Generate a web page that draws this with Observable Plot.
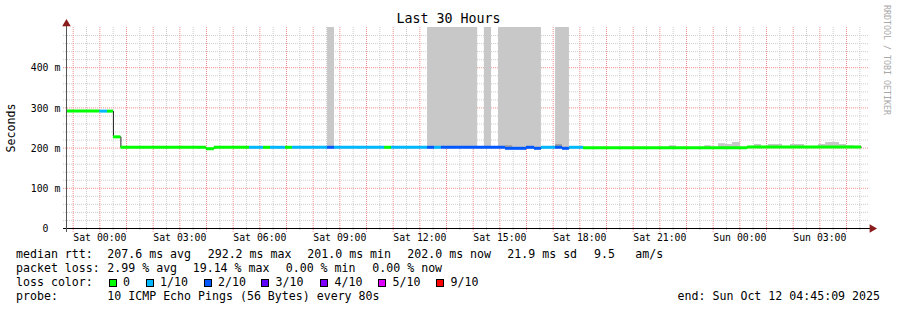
<!DOCTYPE html>
<html><head><meta charset="utf-8">
<script src="https://cdn.jsdelivr.net/npm/d3@7"></script>
<script src="https://cdn.jsdelivr.net/npm/@observablehq/plot@0.6"></script>
<style>
html,body{margin:0;padding:0;background:#fff;}
#wrap{position:relative;width:897px;height:310px;overflow:hidden;font-family:"DejaVu Sans Mono",monospace;color:#000;background:#fff;}
#wrap svg{position:absolute;left:0;top:0;}
.t{position:absolute;white-space:pre;line-height:14px;font-size:11.6px;}
.sw{position:absolute;width:8px;height:8px;box-sizing:border-box;border:1px solid #000;}
</style></head><body><div id="wrap"></div>
<script>
// ---- data (hours relative to Sat 00:00; values in ms) ----
const lossLevels = ["0", "1/10", "2/10", "3/10", "4/10", "5/10", "9/10"];
const lossColors = ["#00ff00", "#00b8ff", "#0059ff", "#5e00ff", "#7e00ff", "#dd00ff", "#ff0000"];

const segStart  = [-1.25, 0.00, 0.29, 0.51, 0.79, 3.99, 4.29, 5.61, 6.14, 6.40, 6.96, 7.22, 8.54, 8.80, 10.68, 10.94, 12.29, 12.55, 12.81, 15.21, 16.00, 16.30, 16.56, 17.09, 17.35, 17.61, 18.14, 24.29];
const segEnd    = [ 0.00, 0.29, 0.51, 0.79, 3.99, 4.29, 5.61, 6.14, 6.40, 6.96, 7.22, 8.54, 8.80, 10.68, 10.94, 12.29, 12.55, 12.81, 15.21, 16.00, 16.30, 16.56, 17.09, 17.35, 17.61, 18.14, 24.29, 28.56];
const segMedian = [292, 292, 292, 228, 202, 198.5, 202, 202, 202, 202, 202, 202, 202, 202, 202, 202, 202, 202, 202, 199.5, 202, 199.5, 202, 202, 199.5, 202, 201, 202.5];
const segLoss   = ["0","1/10","0","0","0","0","0","1/10","0","1/10","0","1/10","2/10","1/10","0","1/10","2/10","1/10","2/10","2/10","2/10","2/10","1/10","2/10","2/10","1/10","0","0"];

const smokeStart = [8.54, 12.29, 14.42, 14.95, 17.09, 21.36, 22.68, 23.20, 23.46, 23.72, 24.55, 25.07, 25.90, 26.95, 27.22, 27.74, 28.00];
const smokeEnd   = [8.80, 14.17, 14.69, 16.56, 17.61, 21.62, 22.94, 23.46, 23.72, 24.02, 24.81, 25.60, 26.43, 27.22, 27.74, 28.00, 28.29];
const smokeLow   = [199, 199, 199, 199, 199, 199, 199, 199, 199, 199, 199, 199, 199, 199, 199, 199, 199];
const smokeHigh  = [500, 500, 500, 500, 500, 206, 206, 211, 209, 214, 209, 209, 209, 209, 214, 209, 206];

const denseStart = [15.21, 17.09];
const denseEnd   = [15.48, 17.35];
const denseHigh  = [206, 209];

const xLabelHours = [0, 3, 6, 9, 12, 15, 18, 21, 24, 27];
const xLabels = ["Sat 00:00", "Sat 03:00", "Sat 06:00", "Sat 09:00", "Sat 12:00", "Sat 15:00", "Sat 18:00", "Sat 21:00", "Sun 00:00", "Sun 03:00"];
const yTickValues = [0, 100, 200, 300, 400];
const yTickLabels = ["0", "100", "200", "300", "400"];
const yTickUnits  = ["", "m", "m", "m", "m"];

const medianStats = ["207.6 ms avg", "292.2 ms max", "201.0 ms min", "202.0 ms now", "21.9 ms sd"];
const amsValue = "9.5";
const lossStats = ["2.99 % avg", "19.14 % max", "0.00 % min", "0.00 % now"];
const probeText = "10 ICMP Echo Pings (56 Bytes) every 80s";
const endText = "end: Sun Oct 12 04:45:09 2025";

// ---- tables ----
const segs = segStart.map((s, i) => ({start: s, end: segEnd[i], median: segMedian[i], loss: segLoss[i]}));
const stepPts = segs.map(d => ({h: d.start, v: d.median}));
stepPts.push({h: segs[segs.length - 1].end, v: segs[segs.length - 1].median});
const smoke = smokeStart.map((s, i) => ({x1: s, x2: smokeEnd[i], y1: smokeLow[i], y2: smokeHigh[i]}));
const dense = denseStart.map((s, i) => ({x1: s, x2: denseEnd[i], y1: 199, y2: denseHigh[i]}));

const yMinor = d3.range(20, 500, 20).filter(v => v % 100 !== 0);
const yMajor = [100, 200, 300, 400];
const xMajor = d3.range(-1, 29, 1);
const xMinor = d3.range(-0.5, 29, 1);

const mono = "DejaVu Sans Mono";
const chart = Plot.plot({
  width: 897, height: 310,
  marginLeft: 66, marginRight: 31, marginTop: 27, marginBottom: 82,
  style: {fontFamily: mono, fontSize: "9.8px", background: "transparent"},
  x: {type: "linear", domain: [-1.25, 28.75], axis: null},
  y: {domain: [0, 500], axis: null},
  color: {type: "ordinal", domain: lossLevels, range: lossColors},
  marks: [
    Plot.ruleY(yMinor, {x1: -1.36, x2: 28.83, stroke: "#cccccc", strokeDasharray: "1,1"}),
    Plot.ruleX(xMinor, {y1: -5, y2: 502.5, stroke: "#cccccc", strokeDasharray: "1,1"}),
    Plot.ruleY(yMajor, {x1: -1.36, x2: 28.83, stroke: "#f08c8c", strokeDasharray: "1,1"}),
    Plot.ruleX(xMajor, {y1: -10, y2: 502.5, stroke: "#f08c8c", strokeDasharray: "1,1"}),
    Plot.rect(smoke, {x1: "x1", x2: "x2", y1: "y1", y2: "y2", fill: "#c8c8c8"}),
    Plot.rect(dense, {x1: "x1", x2: "x2", y1: "y1", y2: "y2", fill: "#a0a0a0"}),
    Plot.line(stepPts, {x: "h", y: "v", curve: "step-after", stroke: "#202020", strokeWidth: 1}),
    Plot.ruleY(segs, {x1: "start", x2: "end", y: "median", stroke: "loss", strokeWidth: 3}),
    Plot.ruleY([0], {x1: -1.36, x2: 28.9, stroke: "#000"}),
    Plot.ruleX([-1.25], {y1: -10, y2: 505, stroke: "#555"}),
    Plot.dot([{h: 28.96, v: 0}], {x: "h", y: "v", symbol: "triangle", r: 3.2, fill: "#8b1c1c", stroke: null, rotate: 90}),
    Plot.dot([{h: -1.25, v: 509}], {x: "h", y: "v", symbol: "triangle", r: 3.2, fill: "#8b1c1c", stroke: null}),
    Plot.text(xLabelHours, {x: d => d, y: 0, text: (d, i) => xLabels[i], dy: 9.5, fill: "#000"}),
    Plot.text(yTickValues, {x: -1.25, y: d => d, text: (d, i) => yTickLabels[i], dx: -18, dy: 0.5, textAnchor: "end", fill: "#000"}),
    Plot.text(yTickValues, {x: -1.25, y: d => d, text: (d, i) => yTickUnits[i], dx: -12, dy: 0.5, textAnchor: "start", fill: "#000"})
  ]
});
const wrap = document.getElementById("wrap");
wrap.appendChild(chart);

function addText(txt, left, top, extra) {
  const d = document.createElement("div");
  d.className = "t";
  d.textContent = txt;
  d.style.left = left + "px";
  d.style.top = top + "px";
  if (extra) Object.assign(d.style, extra);
  wrap.appendChild(d);
  return d;
}
// title
addText("Last 30 Hours", 0, 11.4, {width: "897px", textAlign: "center", fontSize: "13.3px", lineHeight: "16px"});
// y label
addText("Seconds", 11, 127.5, {transform: "translate(-50%,-50%) rotate(-90deg)"});
// watermark
addText("RRDTOOL / TOBI OETIKER", 887, 60, {transform: "translate(-50%,-50%) rotate(90deg)", fontSize: "8.3px", lineHeight: "10px", color: "#a8a8a8"});

// legend rows
const rowTop = [247.3, 261.3, 275.3, 289.3];
addText("median rtt:", 16, rowTop[0]);
[107.3, 207.7, 307.3, 407.3, 507.3].forEach((x, i) => addText(medianStats[i], x, rowTop[0]));
addText(amsValue, 594, rowTop[0]);
addText("am/s", 635.3, rowTop[0]);

addText("packet loss:", 16, rowTop[1]);
[107.3, 192.7, 285.7, 372.3].forEach((x, i) => addText(lossStats[i], x, rowTop[1]));

addText("loss color:", 16, rowTop[2]);
const swX = [108.5, 145.5, 203.5, 261, 320, 378, 436];
lossLevels.forEach((lv, i) => {
  const s = document.createElement("div");
  s.className = "sw";
  s.style.left = swX[i] + "px";
  s.style.top = "278.5px";
  s.style.background = lossColors[i];
  wrap.appendChild(s);
  addText(lv, swX[i] + 14.5, rowTop[2]);
});

addText("probe:", 16, rowTop[3]);
addText(probeText, 107.3, rowTop[3]);
addText(endText, 0, rowTop[3], {left: "auto", right: "17px"});
</script></body></html>
